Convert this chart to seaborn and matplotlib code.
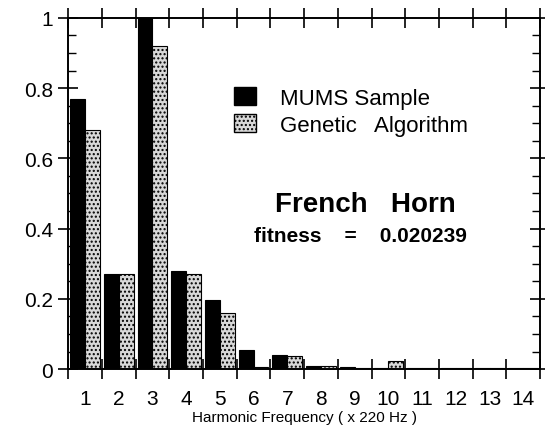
import matplotlib
matplotlib.use("Agg")
import matplotlib.pyplot as plt
import pandas as pd
import seaborn as sns
from matplotlib.patches import Patch
from matplotlib.ticker import FixedLocator, MultipleLocator

harmonics = list(range(1, 15))
mums_sample = [0.77, 0.27, 1.00, 0.28, 0.198, 0.055, 0.041, 0.009, 0.006, 0.003, 0.002, 0.002, 0.003, 0.002]
genetic_alg = [0.68, 0.27, 0.92, 0.27, 0.16, 0.006, 0.036, 0.009, 0.002, 0.022, 0.002, 0.002, 0.002, 0.002]
series_names = ["MUMS Sample", "Genetic   Algorithm"]
y_ticks = [0, 0.2, 0.4, 0.6, 0.8, 1.0]
y_tick_labels = ["0", "0.2", "0.4", "0.6", "0.8", "1"]

frame = pd.DataFrame(
    {
        "harmonic": harmonics * 2,
        "amplitude": mums_sample + genetic_alg,
        "series": [series_names[0]] * len(harmonics) + [series_names[1]] * len(harmonics),
    }
)

sns.set_style("ticks")
plt.rcParams["font.family"] = ["Liberation Sans", "DejaVu Sans"]
plt.rcParams["text.color"] = "black"
plt.rcParams["axes.labelcolor"] = "black"
plt.rcParams["xtick.color"] = "black"
plt.rcParams["ytick.color"] = "black"
plt.rcParams["axes.edgecolor"] = "black"
plt.rcParams["hatch.color"] = "#222222"

fig = plt.figure(figsize=(5.45, 4.39), dpi=100)
ax = fig.add_axes([0.125, 0.157, 0.866, 0.8])

sns.barplot(
    data=frame, x="harmonic", y="amplitude", hue="series", palette=["black", "#d8d8d8"],
    width=0.88, gap=0, edgecolor="black", linewidth=0.8, legend=False, ax=ax,
)

# stipple the genetic algorithm bars
n = len(harmonics)
for patch in ax.patches[n:2 * n]:
    patch.set_hatch("....")

ax.set_xlim(-0.5, n - 0.5)
ax.set_ylim(0, 1.0)

ax.set_yticks(y_ticks)
ax.set_yticklabels(y_tick_labels, fontsize=15)
ax.yaxis.set_minor_locator(MultipleLocator(0.05))
ax.tick_params(axis="y", which="major", direction="inout", length=14, width=1.2, right=True, pad=4)
ax.tick_params(axis="y", which="minor", direction="in", length=6, width=1.0, right=True)

ax.set_xticks(range(n))
ax.set_xticklabels([str(h) for h in harmonics], fontsize=15)
ax.xaxis.set_minor_locator(FixedLocator([i - 0.5 for i in range(n + 1)]))
ax.tick_params(axis="x", which="major", length=0, pad=14)
ax.tick_params(axis="x", which="minor", direction="inout", length=14, width=1.2, top=True)

ax.set_xlabel("Harmonic Frequency ( x 220 Hz )", fontsize=11, labelpad=2)
ax.set_ylabel("")

for side in ["top", "bottom", "left", "right"]:
    ax.spines[side].set_visible(True)
    ax.spines[side].set_linewidth(1.4)

handles = [
    Patch(facecolor="black", edgecolor="black"),
    Patch(facecolor="#d8d8d8", edgecolor="black", hatch="...."),
]
ax.legend(
    handles, series_names, loc="upper left", bbox_to_anchor=(0.31, 0.86), frameon=False,
    fontsize=16, handlelength=0.95, handleheight=0.85, handletextpad=1.1, labelspacing=0.25,
)

ax.text(0.63, 0.47, "French   Horn", transform=ax.transAxes, fontsize=20, fontweight="bold",
        ha="center", va="center")
ax.text(0.62, 0.38, "fitness    =    0.020239", transform=ax.transAxes, fontsize=15, fontweight="bold",
        ha="center", va="center")

fig.savefig("out.png", dpi=100)
